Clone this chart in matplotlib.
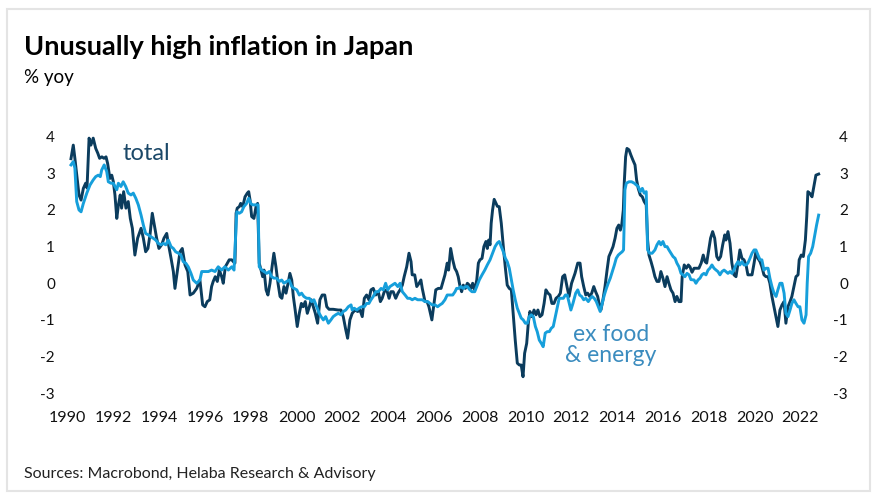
import matplotlib.pyplot as plt
from matplotlib.patches import Rectangle

# Japan CPI, % yoy (decimal years)
total_t = [1990.00, 1990.10, 1990.17, 1990.35, 1990.44, 1990.54, 1990.64, 1990.70, 1990.79, 1990.87,
           1990.97, 1991.08, 1991.17, 1991.25, 1991.35, 1991.44, 1991.53, 1991.60, 1991.70, 1991.78,
           1991.85, 1991.92, 1992.00, 1992.07, 1992.15, 1992.21, 1992.30, 1992.40, 1992.50, 1992.59,
           1992.68, 1992.79, 1992.91, 1993.06, 1993.16, 1993.26, 1993.36, 1993.45, 1993.55, 1993.64,
           1993.74, 1993.84, 1993.96, 1994.06, 1994.18, 1994.25, 1994.37, 1994.47, 1994.54, 1994.66,
           1994.76, 1994.86, 1994.98, 1995.10, 1995.20, 1995.34, 1995.49, 1995.63, 1995.75, 1995.85,
           1995.95, 1996.06, 1996.14, 1996.21, 1996.30, 1996.39, 1996.48, 1996.58, 1996.65, 1996.74,
           1996.83, 1996.91, 1997.02, 1997.09, 1997.16, 1997.21, 1997.26, 1997.35, 1997.41, 1997.50,
           1997.60, 1997.70, 1997.76, 1997.82, 1997.89, 1997.99, 1998.08, 1998.15, 1998.22, 1998.30,
           1998.37, 1998.43, 1998.52, 1998.60, 1998.69, 1998.78, 1998.86, 1998.95, 1999.04, 1999.13,
           1999.21, 1999.30, 1999.39, 1999.48, 1999.56, 1999.64, 1999.71, 1999.79, 1999.88, 1999.97,
           2000.06, 2000.14, 2000.23, 2000.32, 2000.41, 2000.49, 2000.58, 2000.67, 2000.77, 2000.87,
           2000.97, 2001.08, 2001.17, 2001.27, 2001.45, 2001.67, 2001.79, 2001.89, 2002.00, 2002.08,
           2002.18, 2002.28, 2002.40, 2002.52, 2002.62, 2002.72, 2002.81, 2002.91, 2003.01, 2003.10,
           2003.20, 2003.31, 2003.42, 2003.51, 2003.59, 2003.68, 2003.79, 2003.89, 2003.97, 2004.07,
           2004.18, 2004.28, 2004.37, 2004.47, 2004.55, 2004.66, 2004.76, 2004.85, 2004.90, 2005.01,
           2005.10, 2005.20, 2005.28, 2005.34, 2005.46, 2005.55, 2005.63, 2005.76, 2005.93, 2006.04,
           2006.16, 2006.33, 2006.43, 2006.49, 2006.58, 2006.67, 2006.76, 2006.84, 2006.91, 2006.99,
           2007.06, 2007.13, 2007.22, 2007.31, 2007.39, 2007.48, 2007.54, 2007.63, 2007.72, 2007.79,
           2007.86, 2007.95, 2008.03, 2008.12, 2008.18, 2008.24, 2008.30, 2008.35, 2008.41, 2008.48,
           2008.56, 2008.62, 2008.70, 2008.79, 2008.88, 2008.97, 2009.05, 2009.14, 2009.23, 2009.31,
           2009.40, 2009.49, 2009.58, 2009.66, 2009.74, 2009.81, 2009.90, 2009.97, 2010.04, 2010.13,
           2010.22, 2010.31, 2010.39, 2010.48, 2010.57, 2010.66, 2010.74, 2010.83, 2010.92, 2011.00,
           2011.09, 2011.18, 2011.28, 2011.37, 2011.47, 2011.56, 2011.66, 2011.75, 2011.86, 2012.01,
           2012.13, 2012.23, 2012.30, 2012.39, 2012.48, 2012.56, 2012.65, 2012.74, 2012.83, 2012.91,
           2013.00, 2013.09, 2013.14, 2013.23, 2013.32, 2013.41, 2013.49, 2013.58, 2013.67, 2013.76,
           2013.84, 2013.92, 2013.99, 2014.05, 2014.12, 2014.16, 2014.22, 2014.28, 2014.37, 2014.45,
           2014.54, 2014.63, 2014.70, 2014.77, 2014.86, 2014.95, 2015.03, 2015.12, 2015.18, 2015.24,
           2015.33, 2015.41, 2015.50, 2015.59, 2015.68, 2015.76, 2015.85, 2015.94, 2016.03, 2016.11,
           2016.20, 2016.29, 2016.38, 2016.46, 2016.55, 2016.64, 2016.69, 2016.78, 2016.87, 2016.96,
           2017.03, 2017.12, 2017.21, 2017.32, 2017.42, 2017.52, 2017.61, 2017.69, 2017.76, 2017.85,
           2017.93, 2018.02, 2018.11, 2018.20, 2018.28, 2018.37, 2018.46, 2018.55, 2018.60, 2018.69,
           2018.78, 2018.86, 2018.95, 2019.04, 2019.13, 2019.21, 2019.30, 2019.39, 2019.48, 2019.56,
           2019.65, 2019.74, 2019.83, 2019.91, 2020.00, 2020.09, 2020.17, 2020.26, 2020.35, 2020.44,
           2020.52, 2020.61, 2020.70, 2020.79, 2020.87, 2020.96, 2021.05, 2021.14, 2021.22, 2021.31,
           2021.40, 2021.48, 2021.57, 2021.66, 2021.75, 2021.80, 2021.89, 2021.98, 2022.07, 2022.13,
           2022.18, 2022.27, 2022.36, 2022.45, 2022.53, 2022.65]
total_v = [3.40, 3.77, 3.41, 2.41, 2.27, 2.59, 2.73, 2.60, 3.96, 3.77,
           3.96, 3.68, 3.55, 3.41, 3.45, 3.41, 3.45, 3.27, 2.86, 2.95,
           2.77, 2.41, 1.77, 2.13, 2.41, 2.05, 2.50, 2.05, 2.23, 1.77,
           1.50, 0.77, 1.23, 1.50, 1.23, 0.86, 0.95, 1.32, 1.91, 1.59,
           1.23, 0.95, 1.05, 1.23, 1.36, 1.09, 0.68, 0.32, -0.14, 0.41,
           0.86, 0.95, 0.50, 0.32, -0.32, -0.27, -0.14, 0.09, -0.59, -0.64,
           -0.50, -0.45, -0.09, 0.05, 0.18, 0.05, 0.36, 0.18, 0.00, 0.45,
           0.55, 0.64, 0.64, 0.59, 0.55, 1.91, 2.05, 2.09, 2.18, 2.09,
           2.36, 2.46, 2.50, 2.27, 1.82, 1.77, 2.09, 2.18, 0.55, 0.36,
           0.18, 0.36, -0.18, -0.32, 0.00, 0.45, 0.82, 0.45, 0.00, -0.36,
           -0.41, -0.09, -0.27, 0.00, 0.27, 0.09, -0.36, -0.73, -1.18, -0.82,
           -0.55, -0.64, -0.50, -0.82, -0.64, -0.45, -0.64, -0.82, -1.09, -0.45,
           -0.32, -0.32, -0.64, -0.71, -0.71, -0.73, -0.73, -0.91, -1.27, -1.50,
           -1.00, -0.82, -0.73, -0.77, -0.73, -0.91, -0.41, -0.32, -0.45, -0.18,
           -0.14, -0.32, -0.23, -0.50, -0.41, -0.23, -0.18, -0.41, -0.23, -0.23,
           -0.41, -0.27, -0.18, -0.05, 0.18, 0.45, 0.82, 0.59, 0.23, 0.23,
           -0.09, 0.00, 0.09, -0.14, -0.50, -0.50, -0.64, -1.00, -0.18, -0.14,
           -0.14, 0.23, 0.55, 0.36, 0.95, 0.64, 0.41, 0.32, 0.18, -0.09,
           -0.23, -0.05, -0.14, 0.00, -0.05, -0.14, 0.00, -0.18, 0.09, 0.55,
           0.64, 0.68, 1.00, 1.14, 0.95, 1.18, 1.05, 1.64, 2.00, 2.29,
           2.18, 2.10, 2.09, 1.64, 1.00, 0.41, -0.05, -0.14, -0.18, -0.82,
           -1.55, -2.18, -2.23, -2.23, -2.55, -1.91, -1.64, -1.09, -0.77, -0.91,
           -0.73, -0.86, -0.73, -0.91, -0.86, -0.55, -0.18, -0.27, -0.32, -0.55,
           -0.55, -0.41, -0.36, -0.27, 0.18, 0.23, -0.09, -0.36, 0.00, 0.27,
           0.55, 0.55, 0.18, -0.09, -0.32, -0.27, -0.36, -0.27, -0.09, -0.23,
           -0.36, -0.64, -0.73, -0.45, -0.09, 0.36, 0.73, 0.86, 1.00, 1.23,
           1.50, 1.59, 1.45, 1.59, 2.00, 2.73, 3.45, 3.68, 3.64, 3.50,
           3.36, 3.23, 2.82, 2.59, 2.41, 2.36, 2.23, 2.14, 1.18, 0.77,
           0.59, 0.41, 0.18, 0.05, 0.05, 0.32, 0.14, -0.09, 0.18, 0.00,
           -0.18, -0.27, -0.50, -0.36, -0.50, -0.50, 0.18, 0.50, 0.41, 0.50,
           0.45, 0.30, 0.41, 0.41, 0.41, 0.55, 0.77, 0.59, 0.55, 0.91,
           1.23, 1.41, 1.23, 0.73, 0.64, 0.73, 1.05, 1.32, 1.18, 1.41,
           1.09, 0.55, 0.23, 0.18, 0.55, 0.91, 0.68, 0.64, 0.50, 0.23,
           0.23, 0.23, 0.55, 0.86, 0.68, 0.59, 0.45, 0.23, 0.18, 0.18,
           0.00, -0.36, -0.64, -0.91, -1.18, -0.73, -0.59, -0.50, -1.09, -0.64,
           -0.50, -0.36, -0.09, 0.18, 0.23, 0.64, 0.77, 0.73, 1.18, 1.82,
           2.50, 2.45, 2.36, 2.68, 2.95, 2.98]

core_t = [1990.00, 1990.10, 1990.17, 1990.25, 1990.35, 1990.44, 1990.54, 1990.69, 1990.83, 1990.97,
          1991.08, 1991.19, 1991.28, 1991.34, 1991.45, 1991.56, 1991.63, 1991.75, 1991.85, 1991.92,
          1992.00, 1992.07, 1992.18, 1992.28, 1992.39, 1992.50, 1992.62, 1992.72, 1992.83, 1992.94,
          1993.06, 1993.16, 1993.26, 1993.38, 1993.49, 1993.59, 1993.70, 1993.81, 1993.93, 1994.03,
          1994.14, 1994.25, 1994.37, 1994.47, 1994.57, 1994.69, 1994.80, 1994.90, 1995.01, 1995.12,
          1995.24, 1995.34, 1995.49, 1995.63, 1995.71, 1995.85, 1996.00, 1996.14, 1996.29, 1996.43,
          1996.58, 1996.72, 1996.87, 1997.02, 1997.12, 1997.24, 1997.35, 1997.45, 1997.55, 1997.67,
          1997.76, 1997.85, 1997.93, 1998.05, 1998.17, 1998.22, 1998.33, 1998.43, 1998.55, 1998.66,
          1998.76, 1998.86, 1998.98, 1999.10, 1999.20, 1999.30, 1999.42, 1999.53, 1999.64, 1999.74,
          1999.86, 1999.97, 2000.07, 2000.17, 2000.29, 2000.41, 2000.51, 2000.61, 2000.73, 2000.84,
          2000.92, 2001.02, 2001.12, 2001.24, 2001.35, 2001.45, 2001.56, 2001.67, 2001.79, 2001.89,
          2002.00, 2002.11, 2002.23, 2002.28, 2002.37, 2002.48, 2002.58, 2002.69, 2002.81, 2002.91,
          2003.01, 2003.10, 2003.20, 2003.31, 2003.42, 2003.54, 2003.64, 2003.74, 2003.83, 2003.93,
          2004.03, 2004.15, 2004.27, 2004.37, 2004.47, 2004.59, 2004.70, 2004.80, 2004.90, 2005.02,
          2005.14, 2005.24, 2005.34, 2005.46, 2005.58, 2005.68, 2005.78, 2005.90, 2006.01, 2006.11,
          2006.21, 2006.33, 2006.43, 2006.55, 2006.67, 2006.77, 2006.84, 2006.93, 2007.02, 2007.13,
          2007.22, 2007.31, 2007.42, 2007.51, 2007.63, 2007.72, 2007.83, 2007.95, 2008.07, 2008.18,
          2008.30, 2008.41, 2008.52, 2008.62, 2008.70, 2008.79, 2008.88, 2008.97, 2009.05, 2009.14,
          2009.23, 2009.31, 2009.40, 2009.49, 2009.58, 2009.66, 2009.75, 2009.84, 2009.93, 2010.01,
          2010.10, 2010.19, 2010.28, 2010.36, 2010.45, 2010.54, 2010.62, 2010.71, 2010.80, 2010.89,
          2010.97, 2011.06, 2011.15, 2011.24, 2011.32, 2011.41, 2011.50, 2011.59, 2011.67, 2011.76,
          2011.83, 2011.92, 2012.04, 2012.13, 2012.21, 2012.30, 2012.39, 2012.48, 2012.59, 2012.68,
          2012.76, 2012.85, 2012.94, 2013.03, 2013.11, 2013.20, 2013.29, 2013.38, 2013.46, 2013.55,
          2013.64, 2013.73, 2013.81, 2013.90, 2013.99, 2014.07, 2014.13, 2014.19, 2014.25, 2014.37,
          2014.48, 2014.60, 2014.69, 2014.77, 2014.86, 2014.95, 2015.03, 2015.12, 2015.18, 2015.27,
          2015.38, 2015.50, 2015.59, 2015.68, 2015.76, 2015.85, 2015.94, 2016.03, 2016.11, 2016.20,
          2016.29, 2016.38, 2016.46, 2016.55, 2016.64, 2016.73, 2016.81, 2016.90, 2016.99, 2017.07,
          2017.21, 2017.29, 2017.38, 2017.47, 2017.55, 2017.64, 2017.73, 2017.82, 2017.90, 2017.99,
          2018.08, 2018.17, 2018.25, 2018.34, 2018.43, 2018.52, 2018.60, 2018.69, 2018.78, 2018.86,
          2018.95, 2019.04, 2019.13, 2019.21, 2019.30, 2019.39, 2019.48, 2019.56, 2019.65, 2019.74,
          2019.83, 2019.91, 2020.00, 2020.09, 2020.17, 2020.26, 2020.35, 2020.44, 2020.52, 2020.61,
          2020.70, 2020.79, 2020.87, 2020.96, 2021.05, 2021.14, 2021.22, 2021.31, 2021.40, 2021.48,
          2021.57, 2021.66, 2021.75, 2021.83, 2021.92, 2022.01, 2022.10, 2022.15, 2022.21, 2022.30,
          2022.39, 2022.47, 2022.56, 2022.65]
core_v = [3.23, 3.32, 3.14, 2.23, 2.00, 1.95, 2.18, 2.46, 2.68, 2.82,
          2.91, 2.95, 2.91, 3.09, 3.23, 3.05, 2.77, 2.73, 2.73, 2.64,
          2.55, 2.73, 2.64, 2.77, 2.64, 2.46, 2.41, 2.46, 2.32, 2.14,
          1.86, 1.59, 1.36, 1.32, 1.27, 1.23, 1.18, 1.09, 1.05, 1.09,
          1.05, 1.18, 1.00, 0.95, 0.86, 0.82, 0.77, 0.59, 0.55, 0.45,
          0.27, 0.09, 0.00, 0.09, 0.32, 0.32, 0.32, 0.36, 0.32, 0.45,
          0.36, 0.45, 0.36, 0.45, 0.36, 1.95, 1.91, 1.95, 2.09, 2.18,
          2.32, 2.18, 2.14, 2.14, 2.14, 0.45, 0.36, 0.32, 0.27, 0.32,
          0.18, 0.14, 0.14, 0.05, 0.09, 0.00, 0.05, 0.09, -0.09, -0.14,
          -0.18, -0.32, -0.27, -0.36, -0.41, -0.41, -0.50, -0.45, -0.64, -0.82,
          -0.91, -1.00, -0.91, -1.09, -1.00, -0.91, -0.86, -0.82, -0.86, -0.77,
          -0.73, -0.64, -0.59, -0.73, -0.68, -0.73, -0.68, -0.64, -0.64, -0.55,
          -0.55, -0.45, -0.36, -0.23, -0.23, -0.14, -0.18, 0.00, -0.18, -0.09,
          -0.05, 0.00, -0.09, 0.00, -0.23, -0.32, -0.41, -0.41, -0.45, -0.41,
          -0.45, -0.45, -0.45, -0.50, -0.50, -0.55, -0.59, -0.59, -0.64, -0.59,
          -0.55, -0.45, -0.32, -0.32, -0.32, -0.23, -0.14, -0.14, -0.09, -0.14,
          -0.09, -0.09, -0.18, -0.23, -0.23, -0.09, 0.09, 0.23, 0.36, 0.50,
          0.64, 0.82, 1.00, 1.10, 1.14, 1.00, 0.86, 0.68, 0.59, 0.41,
          0.09, -0.18, -0.45, -0.68, -0.82, -0.95, -1.00, -1.09, -1.09, -0.91,
          -0.86, -0.91, -1.18, -1.32, -1.55, -1.64, -1.73, -1.36, -1.32, -1.32,
          -1.23, -1.18, -0.91, -0.64, -0.41, -0.41, -0.41, -0.32, -0.32, -0.55,
          -0.73, -0.55, -0.27, -0.18, -0.32, -0.36, -0.45, -0.41, -0.50, -0.41,
          -0.36, -0.41, -0.50, -0.64, -0.77, -0.55, -0.32, -0.14, 0.00, 0.14,
          0.32, 0.50, 0.68, 0.77, 0.82, 0.86, 0.91, 2.55, 2.73, 2.77,
          2.77, 2.73, 2.68, 2.64, 2.50, 2.59, 2.46, 2.50, 0.91, 0.82,
          0.82, 0.91, 1.05, 1.14, 1.05, 1.14, 1.00, 1.00, 0.91, 0.82,
          0.73, 0.68, 0.55, 0.45, 0.27, 0.23, 0.18, 0.27, 0.23, 0.10,
          0.09, 0.00, 0.09, 0.14, 0.23, 0.27, 0.23, 0.36, 0.41, 0.50,
          0.41, 0.36, 0.32, 0.23, 0.32, 0.36, 0.32, 0.27, 0.32, 0.27,
          0.36, 0.50, 0.59, 0.50, 0.59, 0.50, 0.50, 0.55, 0.68, 0.82,
          0.91, 0.91, 0.77, 0.64, 0.64, 0.36, 0.41, 0.41, 0.14, -0.09,
          -0.27, -0.36, -0.18, 0.00, 0.00, -0.27, -0.82, -0.91, -0.73, -0.55,
          -0.45, -0.55, -0.64, -0.64, -1.00, -1.09, -0.86, 0.00, 0.73, 0.82,
          1.00, 1.27, 1.59, 1.86]

year_ticks = list(range(1990, 2023, 2))
y_ticks = [-3, -2, -1, 0, 1, 2, 3, 4]

dark = '#0b3c5d'
light = '#169fdb'
font = 'Lato'

fig = plt.figure(figsize=(8.77, 4.97), dpi=100)
ax = fig.add_axes([0.0705, 0.1867, 0.8695, 0.5604])

ax.plot(total_t, total_v, color=dark, lw=2.1, solid_joinstyle='round')
ax.plot(core_t, core_v, color=light, lw=2.1, solid_joinstyle='round')

ax.set_xlim(1989.6, 2022.9)
ax.set_ylim(-3.3, 4.3)
ax.set_xticks([y - 0.15 for y in year_ticks])
ax.set_xticklabels([str(y) for y in year_ticks], fontsize=11.5, family=font)
ax.set_yticks(y_ticks)
ax.set_yticklabels([str(v) for v in y_ticks], fontsize=11, family=font)
ax.tick_params(length=0, colors='#111111')
ax.tick_params(axis='y', pad=5)
ax.tick_params(axis='x', pad=5)

ax2 = ax.twinx()
ax2.set_ylim(ax.get_ylim())
ax2.set_yticks(y_ticks)
ax2.set_yticklabels([str(v) for v in y_ticks], fontsize=11, family=font, ha='right')
ax2.tick_params(length=0, pad=17, colors='#111111')

for a in (ax, ax2):
    for s in a.spines.values():
        s.set_visible(False)

ax.text(1992.25, 3.55, 'total', color='#1b4868', fontsize=17, family=font, va='center')
ax.text(2013.58, -1.68, 'ex food\n& energy', color='#3b8cbf', fontsize=16.5, family=font,
        ha='center', va='center', linespacing=1.0)

fig.text(0.027, 0.906, 'Unusually high inflation in Japan', fontsize=19.5, fontweight='bold',
         family=font, va='center')
fig.text(0.027, 0.845, '% yoy', fontsize=13.5, family=font, va='center')
fig.text(0.027, 0.047, 'Sources: Macrobond, Helaba Research & Advisory', fontsize=11.5,
         family=font, va='center', color='#222222')

fig.patches.append(Rectangle((0.008, 0.012), 0.984, 0.969, transform=fig.transFigure,
                             fill=False, edgecolor='#e4e4e4', lw=1.5))

fig.savefig('out.png', dpi=100)
